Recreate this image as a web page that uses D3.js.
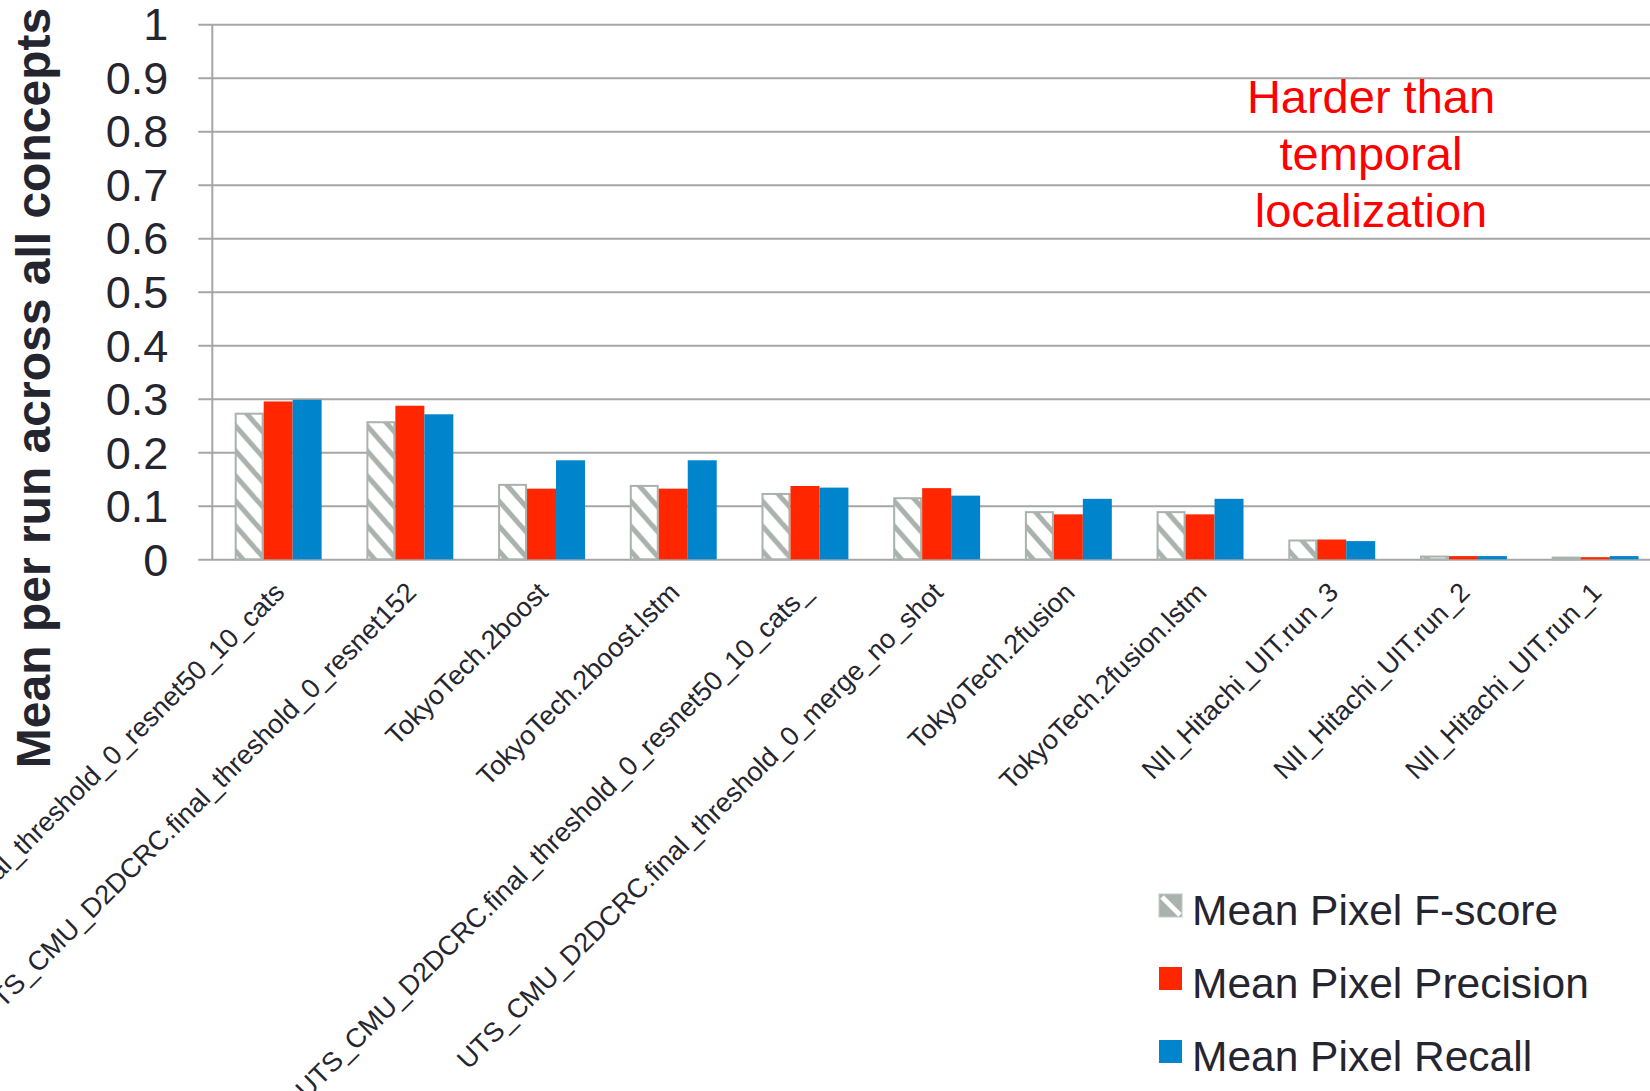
<!DOCTYPE html>
<html>
<head>
<meta charset="utf-8">
<script src="https://cdnjs.cloudflare.com/ajax/libs/d3/7.8.5/d3.min.js"></script>
<style>
  html, body { margin: 0; padding: 0; background: #fff; }
  svg { display: block; font-family: "Liberation Sans", Arial, sans-serif; }
</style>
</head>
<body>
<div id="chart"></div>
<script>
// runs, left to right
const runs = [
  'UTS_CMU_D2DCRC.final_threshold_0_resnet50_10_cats',
  'UTS_CMU_D2DCRC.final_threshold_0_resnet152',
  'TokyoTech.2boost',
  'TokyoTech.2boost.lstm',
  'UTS_CMU_D2DCRC.final_threshold_0_resnet50_10_cats_',
  'UTS_CMU_D2DCRC.final_threshold_0_merge_no_shot',
  'TokyoTech.2fusion',
  'TokyoTech.2fusion.lstm',
  'NII_Hitachi_UIT.run_3',
  'NII_Hitachi_UIT.run_2',
  'NII_Hitachi_UIT.run_1'
];

// series values
const fscore    = [0.274, 0.258, 0.141, 0.139, 0.124, 0.116, 0.090, 0.090, 0.037, 0.007, 0.005];
const precision = [0.295, 0.287, 0.132, 0.132, 0.137, 0.133, 0.084, 0.084, 0.037, 0.006, 0.004];
const recall    = [0.298, 0.271, 0.185, 0.185, 0.134, 0.119, 0.113, 0.113, 0.034, 0.006, 0.006];

const seriesNames = ['Mean Pixel F-score', 'Mean Pixel Precision', 'Mean Pixel Recall'];
const yTicks = [0, 0.1, 0.2, 0.3, 0.4, 0.5, 0.6, 0.7, 0.8, 0.9, 1];
const yTitle = 'Mean per run across all concepts';
const note = ['Harder than', 'temporal', 'localization'];

const W = 1650, H = 1091;
const textCol = '#25252f';
const gridCol = '#a6a6a6';
const hatchCol = '#a9b2ac';
const fills = ['url(#hatch)', '#ff2600', '#0084cc'];

const svg = d3.select('#chart').append('svg')
  .attr('width', W).attr('height', H);

// hatch pattern for the F-score bars
const pat = svg.append('defs').append('pattern')
  .attr('id', 'hatch')
  .attr('patternUnits', 'userSpaceOnUse')
  .attr('width', 22).attr('height', 25);
pat.append('rect').attr('width', 22).attr('height', 25).attr('fill', '#fff');
[-22, 0, 22].forEach(dx => {
  pat.append('line')
    .attr('x1', dx - 5).attr('y1', -5.7)
    .attr('x2', dx + 27).attr('y2', 30.7)
    .attr('stroke', hatchCol).attr('stroke-width', 5);
});

// scales
const x0 = d3.scaleBand().domain(runs)
  .range([212.3, 1661])
  .paddingInner(0.34).paddingOuter(0.17);
const x1 = d3.scaleBand().domain(d3.range(3))
  .range([0, x0.bandwidth()]);
const y = d3.scaleLinear().domain([0, 1]).range([559.3, 24.2]);

// gridlines + tick labels
const yAxis = d3.axisLeft(y).tickValues(yTicks)
  .tickSize(-(W - 198.3)).tickFormat(d3.format('~g'));
const ga = svg.append('g')
  .attr('transform', 'translate(198.3,0)')
  .call(yAxis);
ga.select('.domain').remove();
ga.selectAll('.tick line').attr('stroke', gridCol).attr('stroke-width', 2);
ga.selectAll('.tick text')
  .attr('x', -30).attr('dy', '0.35em')
  .attr('fill', textCol)
  .style('font-size', '45px')
  .style('font-family', '"Liberation Sans", Arial, sans-serif');

// vertical axis line
svg.append('line')
  .attr('x1', 212.3).attr('x2', 212.3)
  .attr('y1', y(1)).attr('y2', y(0))
  .attr('stroke', gridCol).attr('stroke-width', 2);

// bars
const rows = runs.map((r, i) => ({ run: r, vals: [fscore[i], precision[i], recall[i]] }));
const groups = svg.append('g').selectAll('g')
  .data(rows).join('g')
  .attr('transform', d => `translate(${x0(d.run)},0)`);

groups.selectAll('rect')
  .data(d => d.vals.map((v, k) => ({ v, k })))
  .join('rect')
  .attr('x', d => x1(d.k) + (d.k === 0 ? 1 : 0))
  .attr('width', d => x1.bandwidth() - (d.k === 0 ? 2 : 0))
  .attr('y', d => y(d.v) + (d.k === 0 ? 1 : 0))
  .attr('height', d => Math.max(0, y(0) - y(d.v) - (d.k === 0 ? 1 : 0)))
  .attr('fill', d => fills[d.k])
  .attr('stroke', d => d.k === 0 ? hatchCol : 'none')
  .attr('stroke-width', 2);

// rotated run labels
svg.append('g').selectAll('text')
  .data(runs).join('text')
  .attr('transform', d => `translate(${x0(d) + x0.bandwidth() / 2 + 8},594) rotate(-45)`)
  .attr('text-anchor', 'end')
  .attr('fill', textCol)
  .style('font-size', '27px')
  .text(d => d);

// y title
svg.append('text')
  .attr('transform', 'translate(50,388) rotate(-90)')
  .attr('text-anchor', 'middle')
  .attr('fill', textCol)
  .style('font-size', '48px')
  .style('font-weight', 'bold')
  .text(yTitle);

// red note
svg.append('g').selectAll('text')
  .data(note).join('text')
  .attr('x', 1371)
  .attr('y', (d, i) => 113 + i * 57)
  .attr('text-anchor', 'middle')
  .attr('fill', '#ff0000')
  .style('font-size', '47px')
  .text(d => d);

// legend
const leg = svg.append('g').selectAll('g')
  .data(seriesNames).join('g')
  .attr('transform', (d, i) => `translate(1159,${894 + i * 73})`);

leg.append('rect')
  .attr('width', 23).attr('height', 23)
  .attr('fill', (d, i) => i === 0 ? hatchCol : fills[i]);
leg.filter((d, i) => i === 0).append('line')
  .attr('x1', 3).attr('y1', 3).attr('x2', 21).attr('y2', 21)
  .attr('stroke', '#fff').attr('stroke-width', 5);
leg.filter((d, i) => i === 0).select('rect')
  .attr('stroke', '#c3cbc6').attr('stroke-width', 1);

leg.append('text')
  .attr('x', 33).attr('y', 31)
  .attr('fill', textCol)
  .style('font-size', '42.5px')
  .text(d => d);
</script>
</body>
</html>
